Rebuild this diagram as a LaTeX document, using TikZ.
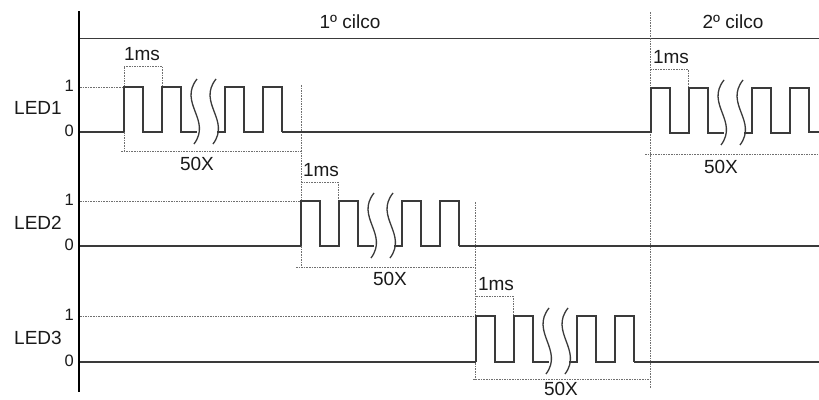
\documentclass[tikz,border=0pt]{standalone}
\usepackage{fontspec}
\setmainfont{Liberation Sans}
\definecolor{wavec}{HTML}{3A3A3A}
\definecolor{dotc}{HTML}{707070}
\definecolor{txtc}{HTML}{1A1A1A}
\tikzset{
  wave/.style={draw=wavec, line width=1.3pt, line join=miter},
  dotln/.style={draw=dotc, line width=0.8pt, dash pattern=on 1.6pt off 1pt},
  lbl/.style={text=txtc, font=\fontsize{19}{21}\selectfont, inner sep=0pt},
  axl/.style={text=txtc, font=\fontsize{16.5}{18}\selectfont, inner sep=0pt, anchor=east},
}
\newcommand\squig[3]{\draw[wave] ({#1+3},{#2}) .. controls ({#1-16},{#2+24}) and ({#1+18},{#3-24}) .. ({#1},{#3});}
\newcommand\pulsetrain[3]{%
  \draw[wave] (#1,#3) -- (#1,#2) -- ({#1+19},#2) -- ({#1+19},#3) -- ({#1+38},#3) -- ({#1+38},#2) -- ({#1+57},#2) -- ({#1+57},#3) -- ({#1+73},#3);
  \draw[wave] ({#1+93},#3) -- ({#1+101},#3) -- ({#1+101},#2) -- ({#1+120},#2) -- ({#1+120},#3) -- ({#1+139},#3) -- ({#1+139},#2) -- ({#1+158},#2) -- ({#1+158},#3);
  \squig{#1+70}{#2-8}{#3+12}
  \squig{#1+89}{#2-8}{#3+12}
}
\begin{document}
\begin{tikzpicture}[x=1pt,y=-1pt]
\useasboundingbox[fill=white] (0,0) rectangle (819,399);
% top cycle line
\draw[draw=wavec, line width=0.8pt] (80,38) -- (819,38);
% cycle separator
\draw[dotln] (650,12) -- (650,388);
% level-1 guides
\draw[dotln] (80,87) -- (124,87);
\draw[dotln] (80,201) -- (301,201);
\draw[dotln] (80,316) -- (476,316);
% LED1 cycle 1 brackets
\draw[dotln] (124,132) -- (124,151);
\draw[dotln] (124,87) -- (124,66) -- (162,66) -- (162,87);
\draw[dotln] (121,151) -- (301,151);
% LED2 brackets
\draw[dotln] (301,85) -- (301,267);
\draw[dotln] (301,182) -- (338,182) -- (338,201);
\draw[dotln] (296,267) -- (475,267);
% LED3 brackets
\draw[dotln] (475,202) -- (475,379);
\draw[dotln] (476,296) -- (513,296) -- (513,316);
\draw[dotln] (473,379) -- (650,379);
% LED1 cycle 2 brackets
\draw[dotln] (650,69) -- (688,69) -- (688,88);
\draw[dotln] (645,154) -- (819,154);
% baselines
\draw[wave] (80,132) -- (124,132);
\draw[wave] (282,132) -- (651,132);
\draw[wave] (809,132) -- (819,132);
\draw[wave] (80,246) -- (301,246);
\draw[wave] (459,246) -- (819,246);
\draw[wave] (80,362) -- (476,362);
\draw[wave] (634,362) -- (819,362);
% pulse trains
\pulsetrain{124}{87}{132}
\pulsetrain{301}{201}{246}
\pulsetrain{476}{316}{362}
\pulsetrain{651}{88}{133}
% axis
\draw[black, line width=2.2pt] (79,11) -- (79,392);
% labels
\node[lbl] (c1) at (350,22) {1º cilco};
\node[lbl] (c2) at (733,22) {2º cilco};
\node[lbl, anchor=west] (led1) at (14,108) {LED1};
\node[lbl, anchor=west] (led2) at (14,223) {LED2};
\node[lbl, anchor=west] (led3) at (14,338) {LED3};
\node[axl] (h1) at (74,86) {1};
\node[axl] (l1) at (74,131) {0};
\node[axl] (h2) at (74,200) {1};
\node[axl] (l2) at (74,245) {0};
\node[axl] (h3) at (74,315) {1};
\node[axl] (l3) at (74,361) {0};
\node[lbl] (ms1) at (142,54) {1ms};
\node[lbl] (ms2) at (321,170) {1ms};
\node[lbl] (ms3) at (496,284) {1ms};
\node[lbl] (ms4) at (671,57) {1ms};
\node[lbl] (x1) at (197,164) {50X};
\node[lbl] (x2) at (390,279) {50X};
\node[lbl] (x3) at (561,389) {50X};
\node[lbl] (x4) at (721,167) {50X};
\end{tikzpicture}
\end{document}
